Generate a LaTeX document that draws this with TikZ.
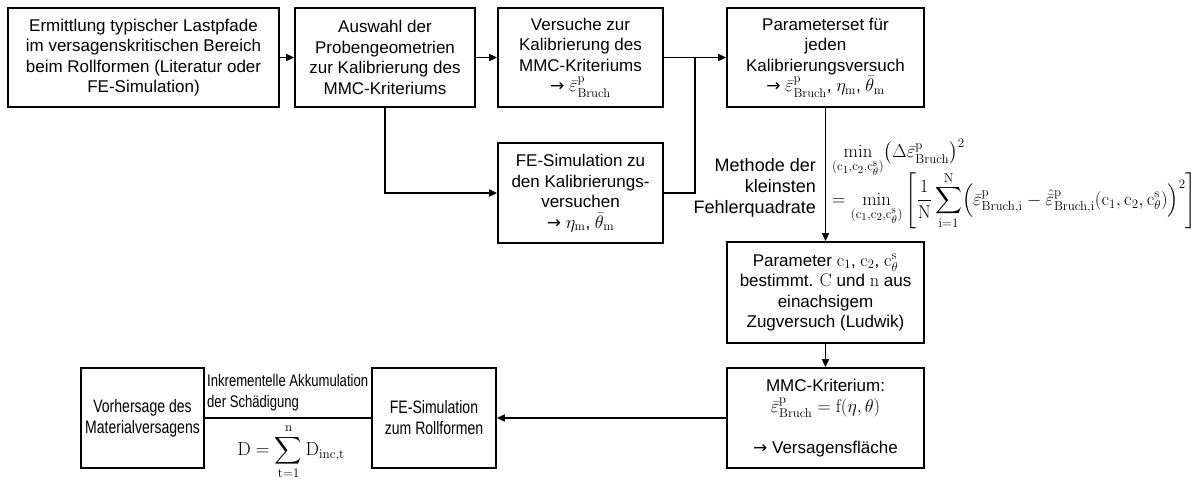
\documentclass[tikz,border=0pt]{standalone}
\usepackage{amsmath}
\usepackage{graphicx}
\usepackage[no-math]{fontspec}
\setmainfont{Liberation Sans}
\newfontfamily\narrowfont[FakeStretch=0.78]{Liberation Sans}
\newfontfamily\arrowfont{DejaVu Sans}
\usetikzlibrary{arrows.meta}
\newcommand{\epsB}{\bar{\varepsilon}^{\mathrm{p}}_{\mathrm{Bruch}}}
\newcommand{\cset}{(\mathrm{c}_1,\mathrm{c}_2,\mathrm{c}_\theta^{\mathrm{s}})}
\newcommand{\toarrow}{{\arrowfont →}}
\newcommand{\bigmath}[1]{{\fontsize{17.28}{20.5}\selectfont\scalebox{1.06}{$#1$}}}
\begin{document}
\begin{tikzpicture}[x=1pt,y=-1pt,
  box/.style={draw, line width=1.8pt, align=center, inner sep=2pt,
    font=\fontsize{17}{20.5}\selectfont},
  arr/.style={line width=1.8pt, -{Triangle[length=8pt,width=7pt]}},
  ln/.style={line width=1.8pt},
  lbl/.style={inner sep=0pt, font=\fontsize{17}{20.5}\selectfont}]
\useasboundingbox (0,0) rectangle (1202,481);

% top row
\node[box, minimum width=271, minimum height=99] (b1) at (143.5,57.5)
  {Ermittlung typischer Lastpfade\\ im versagenskritischen Bereich\\ beim Rollformen (Literatur oder\\ FE-Simulation)};
\node[box, minimum width=180, minimum height=99] (b2) at (385,57.5)
  {Auswahl der\\ Probengeometrien\\ zur Kalibrierung des\\ MMC-Kriteriums};
\node[box, minimum width=165, minimum height=99] (b3) at (580.5,57.5)
  {Versuche zur\\ Kalibrierung des\\ MMC-Kriteriums\\ \toarrow\ \bigmath{\epsB}};
\node[box, minimum width=197, minimum height=99] (b4) at (825.5,57.5)
  {Parameterset für\\ jeden\\ Kalibrierungsversuch\\ \toarrow\ \bigmath{\epsB}, \bigmath{\eta_{\mathrm{m}}}, \bigmath{\bar{\theta}_{\mathrm{m}}}};

% simulation of the calibration tests
\node[box, minimum width=165, minimum height=100] (b5) at (580.5,193)
  {FE-Simulation zu\\ den Kalibrierungs-\\ versuchen\\ \toarrow\ \bigmath{\eta_{\mathrm{m}}}, \bigmath{\bar{\theta}_{\mathrm{m}}}};

% right column
\node[box, minimum width=197, minimum height=101] (b6) at (825.5,292.5)
  {Parameter \bigmath{\mathrm{c}_1}, \bigmath{\mathrm{c}_2}, \bigmath{\mathrm{c}_\theta^{\mathrm{s}}}\\ bestimmt. \bigmath{\mathrm{C}} und \bigmath{\mathrm{n}} aus\\ einachsigem\\ Zugversuch (Ludwik)};
\node[box, minimum width=197, minimum height=100] (b7) at (825.5,418)
  {MMC-Kriterium:\\ \bigmath{\epsB = \mathrm{f}(\eta,\theta)}\\[20.5pt] \toarrow\ Versagensfläche};

% bottom row
\node[box, minimum width=124, minimum height=100, font=\narrowfont\fontsize{18}{21}\selectfont] (b8) at (434,418)
  {FE-Simulation\\ zum Rollformen};
\node[box, minimum width=123, minimum height=100, font=\narrowfont\fontsize{18}{21}\selectfont] (b9) at (142.5,418)
  {Vorhersage des\\ Materialversagens};

% labels
\node[lbl, align=right, anchor=east, font=\fontsize{18}{21}\selectfont] (lsq) at (816,188)
  {Methode der\\ kleinsten\\ Fehlerquadrate};
\node[lbl, anchor=west, font=\fontsize{17.28}{21}\selectfont] (eq) at (832,184)
  {\scalebox{1.08}{\begin{tabular}{@{}l@{}}
   $\displaystyle \min_{\cset}\bigl(\Delta\epsB\bigr)^2$\\[-6pt]
   $\displaystyle = \min_{\cset}\left[\frac{1}{\mathrm{N}}\sum_{\mathrm{i}=1}^{\mathrm{N}}\Bigl(\bar{\varepsilon}^{\mathrm{p}}_{\mathrm{Bruch,i}}-\hat{\bar{\varepsilon}}^{\mathrm{p}}_{\mathrm{Bruch,i}}\cset\Bigr)^2\right]$
   \end{tabular}}};
\node[lbl, align=left, anchor=north west, font=\narrowfont\fontsize{16.8}{21}\selectfont] (acc) at (207,374)
  {Inkrementelle Akkumulation\\ der Schädigung};
\node[lbl, font=\fontsize{17.28}{21}\selectfont] (dsum) at (291,452)
  {\scalebox{1.1}{$\displaystyle \mathrm{D} = \sum_{\mathrm{t}=1}^{\mathrm{n}}\mathrm{D}_{\mathrm{inc,t}}$}};

% connectors
\coordinate (j) at (695,57.5);
\draw[arr] (b1) -- (b2);
\draw[arr] (b2) -- (b3);
\draw[arr] (b3) -- (b4);
\draw[arr] (b2.south) |- (b5.west);
\draw[ln] (b5.east) -| (j);
\draw[arr] (b4) -- (b6);
\draw[arr] (b6) -- (b7);
\draw[arr] (b7) -- (b8);
\draw[ln] (b8) -- (b9);
\end{tikzpicture}
\end{document}
